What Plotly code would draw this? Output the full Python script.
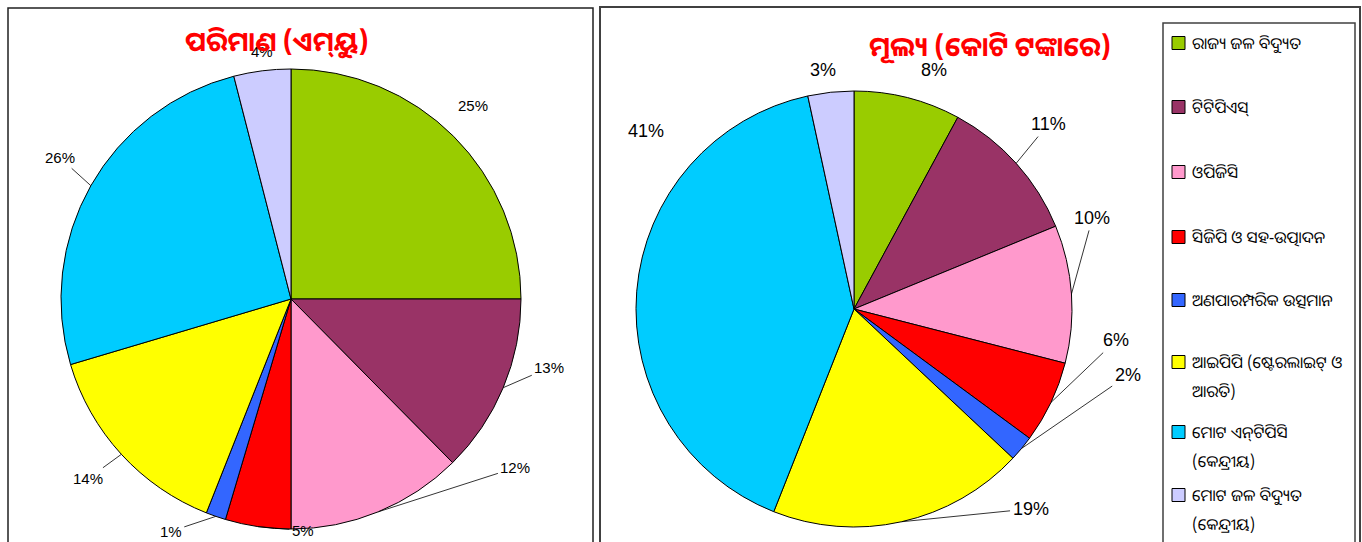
import math
import plotly.graph_objects as go

# ---------------- data ----------------
categories = [
    "ରାଜ୍ୟ ଜଳ ବିଦ୍ୟୁତ",
    "ଟିଟିପିଏସ୍",
    "ଓପିଜିସି",
    "ସିଜିପି ଓ ସହ-ଉତ୍ପାଦନ",
    "ଅଣପାରମ୍ପରିକ ଉତ୍ସମାନ",
    "ଆଇପିପି (ଷ୍ଟେରଲାଇଟ୍ ଓ ଆରତି)",
    "ମୋଟ ଏନ୍‌ଟିପିସି (କେନ୍ଦ୍ରୀୟ)",
    "ମୋଟ ଜଳ ବିଦ୍ୟୁତ (କେନ୍ଦ୍ରୀୟ)",
]
legend_lines = [
    ["ରାଜ୍ୟ ଜଳ ବିଦ୍ୟୁତ"],
    ["ଟିଟିପିଏସ୍"],
    ["ଓପିଜିସି"],
    ["ସିଜିପି ଓ ସହ-ଉତ୍ପାଦନ"],
    ["ଅଣପାରମ୍ପରିକ ଉତ୍ସମାନ"],
    ["ଆଇପିପି (ଷ୍ଟେରଲାଇଟ୍ ଓ", "ଆରତି)"],
    ["ମୋଟ ଏନ୍‌ଟିପିସି", "(କେନ୍ଦ୍ରୀୟ)"],
    ["ମୋଟ ଜଳ ବିଦ୍ୟୁତ", "(କେନ୍ଦ୍ରୀୟ)"],
]
quantity_share = [25.0, 12.6, 12.4, 4.6, 1.4, 14.4, 25.6, 4.0]   # ପରିମାଣ (ଏମ୍‌ୟୁ)
value_share = [7.9, 10.9, 10.2, 6.1, 1.9, 19.0, 40.6, 3.4]       # ମୂଲ୍ୟ (କୋଟି ଟଙ୍କାରେ)
title_quantity = "ପରିମାଣ (ଏମ୍‌ୟୁ)"
title_value = "ମୂଲ୍ୟ (କୋଟି ଟଙ୍କାରେ)"

# ---------------- style ----------------
colors = ["#99CC00", "#993366", "#FF99CC", "#FF0000", "#3366FF", "#FFFF00", "#00CCFF", "#CCCCFF"]
W, H = 1362, 542
FONT = "Liberation Sans, Arial, sans-serif"
ODIA_FONT = "Noto Sans Oriya, Noto Sans, DejaVu Sans, sans-serif"

# pie geometry (pixels): centre x, centre y, radius
pie1_geom = (291, 299, 230)
pie2_geom = (854, 309, 218)

# label offsets from slice mid-arc point (pixels), and whether a leader line is drawn
pie1_offsets = [(19, -31), (46, -20), (137, -44), (45, 4), (-45, 15), (-33, 24), (-31, -28), (0, -19)]
pie1_lines = [False, True, True, True, True, True, True, False]
pie2_offsets = [(26, -28), (32, -39), (21, -76), (65, -62), (106, -73), (129, -13), (9, -160), (-8, -22)]
pie2_lines = [False, True, True, True, True, True, False, False]


def px2x(px):
    return px / W


def px2y(py):
    return 1 - py / H


def domain(geom):
    cx, cy, r = geom
    return dict(x=[px2x(cx - r), px2x(cx + r)], y=[px2y(cy + r), px2y(cy - r)])


fig = go.Figure()
for vals, geom in [(quantity_share, pie1_geom), (value_share, pie2_geom)]:
    fig.add_trace(go.Pie(
        labels=categories, values=vals, sort=False, direction="clockwise", rotation=0,
        marker=dict(colors=colors, line=dict(color="black", width=1)),
        textinfo="none", hoverinfo="label+percent", showlegend=False,
        domain=domain(geom),
    ))

annotations = []
shapes = []


def add_labels(vals, geom, offsets, lines, size):
    cx, cy, r = geom
    total = sum(vals)
    cum = 0.0
    for v, (dx, dy), ln in zip(vals, offsets, lines):
        mid = (cum + v / 2) / total * 2 * math.pi
        cum += v
        ax_px = cx + r * math.sin(mid)
        ay_px = cy - r * math.cos(mid)
        annotations.append(dict(
            x=px2x(ax_px), y=px2y(ay_px), xref="paper", yref="paper",
            text=f"{round(v / total * 100)}%", showarrow=True, arrowhead=0,
            arrowwidth=0.8, arrowcolor="black" if ln else "rgba(0,0,0,0)",
            ax=dx, ay=dy, standoff=0, startstandoff=1,
            font=dict(family=FONT, size=size, color="black"),
        ))


add_labels(quantity_share, pie1_geom, pie1_offsets, pie1_lines, 15)
add_labels(value_share, pie2_geom, pie2_offsets, pie2_lines, 18)

# titles
annotations.append(dict(x=px2x(277), y=px2y(20), xref="paper", yref="paper", text=f"<b>{title_quantity}</b>",
                        showarrow=False, xanchor="center",
                        font=dict(family=ODIA_FONT, size=27, color="#FF0000")))
annotations.append(dict(x=px2x(990), y=px2y(25), xref="paper", yref="paper", text=f"<b>{title_value}</b>",
                        showarrow=False, xanchor="center",
                        font=dict(family=ODIA_FONT, size=27, color="#FF0000")))

# panel borders
shapes.append(dict(type="rect", xref="paper", yref="paper", x0=px2x(8), x1=px2x(593), y0=px2y(560), y1=px2y(8),
                   line=dict(color="#202020", width=1.5), fillcolor="rgba(0,0,0,0)"))
shapes.append(dict(type="rect", xref="paper", yref="paper", x0=px2x(600), x1=px2x(1360), y0=px2y(560), y1=px2y(7),
                   line=dict(color="#404040", width=2), fillcolor="rgba(0,0,0,0)"))
# legend box
shapes.append(dict(type="rect", xref="paper", yref="paper", x0=px2x(1163), x1=px2x(1355), y0=px2y(560), y1=px2y(23),
                   line=dict(color="#404040", width=1.5), fillcolor="rgba(0,0,0,0)"))

legend_rows = [43, 107, 172, 237, 300, 362, 432, 495]
legend_line_gap = 29
for lines, col, ry in zip(legend_lines, colors, legend_rows):
    shapes.append(dict(type="rect", xref="paper", yref="paper",
                       x0=px2x(1172), x1=px2x(1185), y0=px2y(ry + 6.5), y1=px2y(ry - 6.5),
                       line=dict(color="black", width=1), fillcolor=col))
    for k, txt in enumerate(lines):
        annotations.append(dict(x=px2x(1190), y=px2y(ry + k * legend_line_gap), xref="paper", yref="paper",
                                text=txt, showarrow=False, xanchor="left", yanchor="middle", align="left",
                                font=dict(family=ODIA_FONT, size=16, color="black")))

fig.update_layout(
    width=W, height=H, margin=dict(l=0, r=0, t=0, b=0),
    paper_bgcolor="white", plot_bgcolor="white",
    annotations=annotations, shapes=shapes, showlegend=False,
)

fig.write_html("out.html", config={"displayModeBar": False},
               post_script="document.body.style.margin='0';")
